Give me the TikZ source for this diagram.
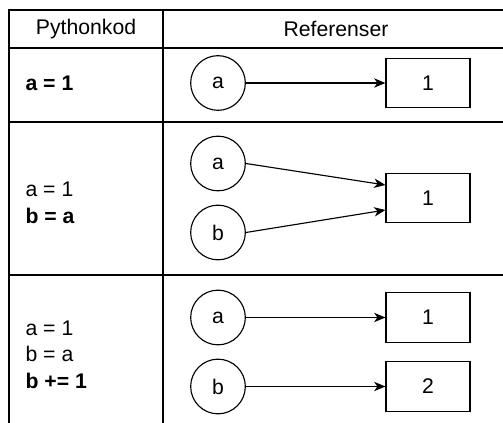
\documentclass[tikz,border=0pt]{standalone}
\usepackage{fontspec}
\setmainfont{Liberation Sans}
\usetikzlibrary{arrows.meta}
\tikzset{
  var/.style={draw, circle, minimum size=41pt, inner sep=0pt},
  val/.style={draw, rectangle, minimum width=63pt, minimum height=37pt, inner sep=0pt},
  ref/.style={-{Stealth[length=8.5pt,width=7pt,inset=2.5pt]}},
  code/.style={anchor=west, align=left, inner sep=0pt},
}
\begin{document}
\begin{tikzpicture}[x=0.75pt, y=-0.75pt, line width=0.85pt, font=\fontsize{15.9}{20}\selectfont]
\useasboundingbox (0,0) rectangle (503,423);
% table
\draw (503,10) -- (9,10) -- (9,423);
\draw (163,10) -- (163,423);
\draw (9,48) -- (503,48);
\draw (9,122) -- (503,122);
\draw (9,275) -- (503,275);
\node (hcode) at (86,29) {Pythonkod};
\node (href) at (336,29) {Referenser};
% a = 1
\node[code] (code1) at (25,83) {\textbf{a = 1}};
\node[var] (a1) at (218,83) {a};
\node[val] (v1) at (428,83) {1};
\draw[ref] (a1) -- (v1);
% b = a
\node[code] (code2) at (25,202.5) {a = 1\\\textbf{b = a}};
\node[var] (a2) at (218,163.5) {a};
\node[var] (b2) at (218,232.5) {b};
\node[val] (v2) at (428,198) {1};
\draw[ref] (a2.east) -- ([yshift=9.75pt]v2.west);
\draw[ref] (b2.east) -- ([yshift=-9pt]v2.west);
% b += 1
\node[code] (code3) at (25,354.5) {a = 1\\b = a\\\textbf{b += 1}};
\node[var] (a3) at (218,317.5) {a};
\node[val] (v3) at (428,317.5) {1};
\node[var] (b3) at (218,386.5) {b};
\node[val] (w3) at (428,386.5) {2};
\draw[ref] (a3) -- (v3);
\draw[ref] (b3) -- (w3);
\end{tikzpicture}
\end{document}
